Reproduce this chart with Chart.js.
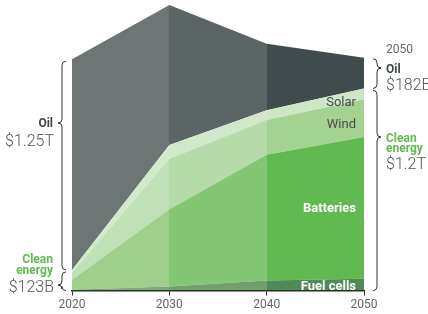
<!DOCTYPE html>
<html><head><meta charset="utf-8">
<script src="https://cdn.jsdelivr.net/npm/chart.js@4/dist/chart.umd.min.js"></script>
<style>html,body{margin:0;padding:0;background:#fff}#wrap{width:428px;height:314px;position:relative}</style>
</head><body><div id="wrap"><canvas id="c" width="428" height="314"></canvas></div>
<script>
// ---- data (billions of US$) ----
const years = ['2020', '2030', '2040', '2050'];
const fuelCells = [5, 24, 60, 71];
const batteries = [59, 459, 746, 841];
const wind = [41, 300, 206, 224];
const solar = [18, 82, 58, 64];
const oil = [1250, 830, 395, 182];
const seriesNames = ['Fuel cells', 'Batteries', 'Wind', 'Solar', 'Oil'];
const totalLabels = { oil2020: '$1.25T', clean2020: '$123B', oil2050: '$182B', clean2050: '$1.2T' };

// ---- styles: one colour per decade band ----
const bandColors = {
  'Fuel cells': ['#7ea878', '#71a06c', '#4f8b55'],
  'Batteries': ['#9ed08c', '#83c673', '#62b951'],
  'Wind': ['#c0e0b5', '#b5dba8', '#a4d391'],
  'Solar': ['#d3e9cb', '#d1e7c9', '#cfe6c6'],
  'Oil': ['#6d7575', '#5b6565', '#3f4b4d']
};
const FONT = 'Roboto, "Open Sans", sans-serif';
const seriesData = [fuelCells, batteries, wind, solar, oil];

// hard-stop horizontal gradient: one flat colour per decade band, no seams
function bandFill(name) {
  return (context) => {
    const chart = context.chart;
    const area = chart.chartArea;
    if (!area) return bandColors[name][0];
    const xs = chart.scales.x;
    const g = chart.ctx.createLinearGradient(area.left, 0, area.right, 0);
    const w = area.right - area.left;
    const cols = bandColors[name];
    for (let i = 0; i < cols.length; i++) {
      const a = (xs.getPixelForValue(i) - area.left) / w;
      const b = (xs.getPixelForValue(i + 1) - area.left) / w;
      g.addColorStop(Math.max(0, Math.min(1, a)), cols[i]);
      g.addColorStop(Math.max(0, Math.min(1, b)), cols[i]);
    }
    return g;
  };
}

const datasets = seriesNames.map((name, i) => ({
  label: name,
  data: seriesData[i],
  fill: i === 0 ? 'origin' : '-1',
  backgroundColor: bandFill(name),
  borderWidth: 0,
  pointRadius: 0,
  tension: 0
}));

function brace(ctx, x, y1, y2, ym, dir, w) {
  ctx.beginPath();
  ctx.moveTo(x - dir * w, y1);
  ctx.quadraticCurveTo(x, y1, x, y1 + w);
  ctx.lineTo(x, ym - w);
  ctx.quadraticCurveTo(x, ym, x + dir * w, ym);
  ctx.quadraticCurveTo(x, ym, x, ym + w);
  ctx.lineTo(x, y2 - w);
  ctx.quadraticCurveTo(x, y2, x - dir * w, y2);
  ctx.stroke();
}

const annot = {
  id: 'annot',
  afterDraw(chart) {
    const ctx = chart.ctx;
    const xs = chart.scales.x, ys = chart.scales.y;
    const clean = i => fuelCells[i] + batteries[i] + wind[i] + solar[i];
    const yBase = ys.getPixelForValue(0);
    const x0 = xs.getPixelForValue(0), x3 = xs.getPixelForValue(3);
    ctx.save();
    ctx.strokeStyle = '#333';
    ctx.lineWidth = 1;
    // left braces (2020)
    const lTop = ys.getPixelForValue(clean(0) + oil[0]);
    const lClean = ys.getPixelForValue(clean(0));
    const bxL = x0 - 10;
    brace(ctx, bxL, lTop + 2, lClean, 123, -1, 4);
    brace(ctx, bxL, lClean + 2, yBase, 285, -1, 4);
    // right braces (2050)
    const rTop = ys.getPixelForValue(clean(3) + oil[3]);
    const rClean = ys.getPixelForValue(clean(3));
    const bxR = x3 + 13;
    brace(ctx, bxR, rTop + 1, rClean, 68, 1, 4);
    brace(ctx, bxR, rClean + 2, yBase, 137, 1, 4);

    ctx.textBaseline = 'alphabetic';
    // left labels
    ctx.textAlign = 'right';
    const lx = bxL - 9;
    ctx.fillStyle = '#3d4747'; ctx.font = 'bold 12px ' + FONT;
    ctx.fillText('Oil', lx, 127);
    ctx.fillStyle = '#555'; ctx.font = '300 16px ' + FONT;
    ctx.fillText(totalLabels.oil2020, lx + 1, 146);
    ctx.fillStyle = '#62b94f'; ctx.font = 'bold 12px ' + FONT;
    ctx.fillText('Clean', lx, 263);
    ctx.fillText('energy', lx, 274);
    ctx.fillStyle = '#555'; ctx.font = '300 16px ' + FONT;
    ctx.fillText(totalLabels.clean2020, lx + 1, 292);
    // right labels
    ctx.textAlign = 'left';
    const rx = bxR + 9;
    ctx.fillStyle = '#666'; ctx.font = '12px ' + FONT;
    ctx.fillText('2050', rx, 53);
    ctx.fillStyle = '#3d4747'; ctx.font = 'bold 12px ' + FONT;
    ctx.fillText('Oil', rx, 73);
    ctx.fillStyle = '#555'; ctx.font = '300 16px ' + FONT;
    ctx.fillText(totalLabels.oil2050, rx, 90);
    ctx.fillStyle = '#62b94f'; ctx.font = 'bold 12px ' + FONT;
    ctx.fillText('Clean', rx, 142);
    ctx.fillText('energy', rx, 152);
    ctx.fillStyle = '#555'; ctx.font = '300 16px ' + FONT;
    ctx.fillText(totalLabels.clean2050, rx, 169);
    // inline series labels
    ctx.textAlign = 'right';
    const ix = x3 - 8;
    ctx.fillStyle = '#4a4a4a'; ctx.font = '13px ' + FONT;
    ctx.fillText('Solar', ix, 106);
    ctx.fillText('Wind', ix, 128);
    ctx.fillStyle = '#fff'; ctx.font = 'bold 13px ' + FONT;
    ctx.fillText('Batteries', ix, 212);
    ctx.fillText('Fuel cells', ix, 290);
    ctx.restore();
  }
};

new Chart(document.getElementById('c'), {
  type: 'line',
  data: { labels: years, datasets },
  options: {
    responsive: false,
    devicePixelRatio: 1,
    animation: false,
    layout: { padding: { left: 72, right: 64, top: 0, bottom: 0 } },
    plugins: { legend: { display: false }, tooltip: { enabled: false } },
    elements: { line: { borderWidth: 0 } },
    scales: {
      x: {
        offset: false,
        grid: { display: true, drawOnChartArea: false, drawTicks: true, tickLength: 5, color: '#333' },
        border: { display: true, color: '#222', width: 1.5 },
        ticks: { color: '#666', font: { size: 12, family: FONT }, padding: 2, maxRotation: 0, autoSkip: false }
      },
      y: { stacked: true, display: false, min: 0, max: 1725 }
    }
  },
  plugins: [annot]
});
</script>
</body></html>
